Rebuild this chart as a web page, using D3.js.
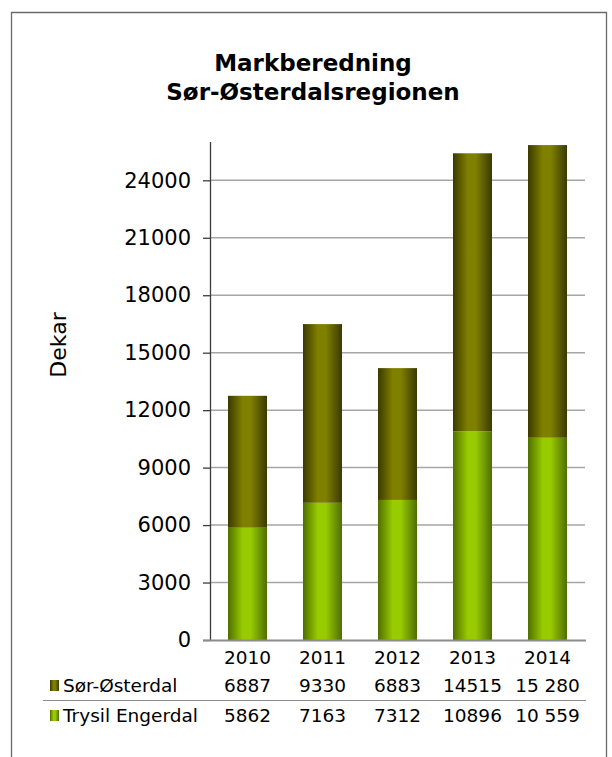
<!DOCTYPE html>
<html>
<head>
<meta charset="utf-8">
<script src="https://cdn.jsdelivr.net/npm/d3@7"></script>
<style>
	body { margin: 0; background: #fff; }
	svg text { font-family: "DejaVu Sans", Verdana, sans-serif; fill: #000; }
</style>
</head>
<body>
<svg id="chart" width="612" height="757"></svg>
<script>
"use strict";

// data
var years = ['2010', '2011', '2012', '2013', '2014'];
var sorOsterdal = [6887, 9330, 6883, 14515, 15280];
var trysilEngerdal = [5862, 7163, 7312, 10896, 10559];
var sorLabels = ['6887', '9330', '6883', '14515', '15 280'];
var trysilLabels = ['5862', '7163', '7312', '10896', '10 559'];
var yTicks = [0, 3000, 6000, 9000, 12000, 15000, 18000, 21000, 24000];

var colors = {
	olive: '#808000',
	oliveDark: '#3a3a00',
	green: '#99cc00',
	greenDark: '#4f6e00',
	grid: '#a6a6a6',
	axis: '#3c3c3c',
	frame: '#6a6a6a'
};

var svg = d3.select('#chart');
var defs = svg.append('defs');

function makeGradient(id, dark, light) {
	var g = defs.append('linearGradient')
		.attr('id', id)
		.attr('x1', '0%').attr('y1', '0%')
		.attr('x2', '100%').attr('y2', '0%');
	g.append('stop').attr('offset', '0%').attr('stop-color', dark);
	g.append('stop').attr('offset', '38%').attr('stop-color', light);
	g.append('stop').attr('offset', '58%').attr('stop-color', light);
	g.append('stop').attr('offset', '100%').attr('stop-color', dark);
}
makeGradient('grad-olive', colors.oliveDark, colors.olive);
makeGradient('grad-green', colors.greenDark, colors.green);

// frame (bottom is cut off)
svg.append('path')
	.attr('d', 'M11.5,757V12.5H606.5V757')
	.attr('fill', 'none')
	.attr('stroke', colors.frame)
	.attr('stroke-width', 1.3);

// title
var title = svg.append('text')
	.attr('text-anchor', 'middle')
	.style('font-weight', 'bold')
	.style('font-size', '23px');
title.append('tspan').attr('x', 313).attr('y', 71).text('Markberedning');
title.append('tspan').attr('x', 313).attr('y', 100).text('Sør-Østerdalsregionen');

// scales
var x = d3.scaleBand()
	.domain(years)
	.range([210, 585])
	.paddingInner(0.48)
	.paddingOuter(0.24);

var y = d3.scaleLinear()
	.domain([0, 26000])
	.range([640, 142]);

// gridlines
svg.append('g')
	.selectAll('line')
	.data(yTicks.filter(function(d) { return d > 0; }))
	.enter().append('line')
	.attr('x1', 210).attr('x2', 585)
	.attr('y1', function(d) { return y(d); })
	.attr('y2', function(d) { return y(d); })
	.attr('stroke', colors.grid)
	.attr('stroke-width', 1.5);

// bars
var stacked = years.map(function(yr, i) {
	return { year: yr, trysil: trysilEngerdal[i], sor: sorOsterdal[i] };
});

var bars = svg.append('g');
bars.selectAll('rect.trysil')
	.data(stacked)
	.enter().append('rect')
	.attr('class', 'trysil')
	.attr('x', function(d) { return x(d.year); })
	.attr('width', x.bandwidth())
	.attr('y', function(d) { return y(d.trysil); })
	.attr('height', function(d) { return y(0) - y(d.trysil); })
	.attr('fill', 'url(#grad-green)');

bars.selectAll('rect.sor')
	.data(stacked)
	.enter().append('rect')
	.attr('class', 'sor')
	.attr('x', function(d) { return x(d.year); })
	.attr('width', x.bandwidth())
	.attr('y', function(d) { return y(d.trysil + d.sor); })
	.attr('height', function(d) { return y(d.trysil) - y(d.trysil + d.sor); })
	.attr('fill', 'url(#grad-olive)');

// y axis
var yAxis = svg.append('g')
	.attr('transform', 'translate(210,0)')
	.call(d3.axisLeft(y).tickValues(yTicks).tickSize(7).tickPadding(12).tickFormat(d3.format('d')));
yAxis.select('.domain').remove();
yAxis.selectAll('.tick line').attr('stroke', colors.axis).attr('stroke-width', 1.3);
yAxis.selectAll('.tick text')
	.style('font-size', '21px')
	.attr('fill', '#000');

svg.append('line')
	.attr('x1', 210.5).attr('x2', 210.5)
	.attr('y1', y.range()[1]).attr('y2', y(0))
	.attr('stroke', colors.axis)
	.attr('stroke-width', 1.3);

// x axis line
svg.append('line')
	.attr('x1', 203).attr('x2', 586)
	.attr('y1', y(0) + 0.5).attr('y2', y(0) + 0.5)
	.attr('stroke', '#8c8c8c')
	.attr('stroke-width', 2);

// axis title
svg.append('text')
	.attr('transform', 'translate(66,345) rotate(-90)')
	.attr('text-anchor', 'middle')
	.style('font-size', '22px')
	.text('Dekar');

// data table
var tableFont = '18.5px';
svg.append('g')
	.selectAll('text')
	.data(years)
	.enter().append('text')
	.attr('x', function(d) { return x(d) + x.bandwidth() / 2; })
	.attr('y', 664)
	.attr('text-anchor', 'middle')
	.style('font-size', tableFont)
	.text(function(d) { return d; });

var rows = [
	{ name: 'Sør-Østerdal', labels: sorLabels, grad: 'url(#grad-olive)', y: 692 },
	{ name: 'Trysil Engerdal', labels: trysilLabels, grad: 'url(#grad-green)', y: 722 }
];

rows.forEach(function(row) {
	svg.append('rect')
		.attr('x', 50).attr('y', row.y - 12)
		.attr('width', 9).attr('height', 11)
		.attr('fill', row.grad);
	svg.append('text')
		.attr('x', 63).attr('y', row.y)
		.style('font-size', tableFont)
		.text(row.name);
	svg.append('g')
		.selectAll('text')
		.data(row.labels)
		.enter().append('text')
		.attr('x', function(d, i) { return x(years[i]) + x.bandwidth() / 2; })
		.attr('y', row.y)
		.attr('text-anchor', 'middle')
		.style('font-size', tableFont)
		.text(function(d) { return d; });
});

svg.append('line')
	.attr('x1', 43).attr('x2', 586)
	.attr('y1', 700.5).attr('y2', 700.5)
	.attr('stroke', '#8c8c8c')
	.attr('stroke-width', 1);
</script>
</body>
</html>
